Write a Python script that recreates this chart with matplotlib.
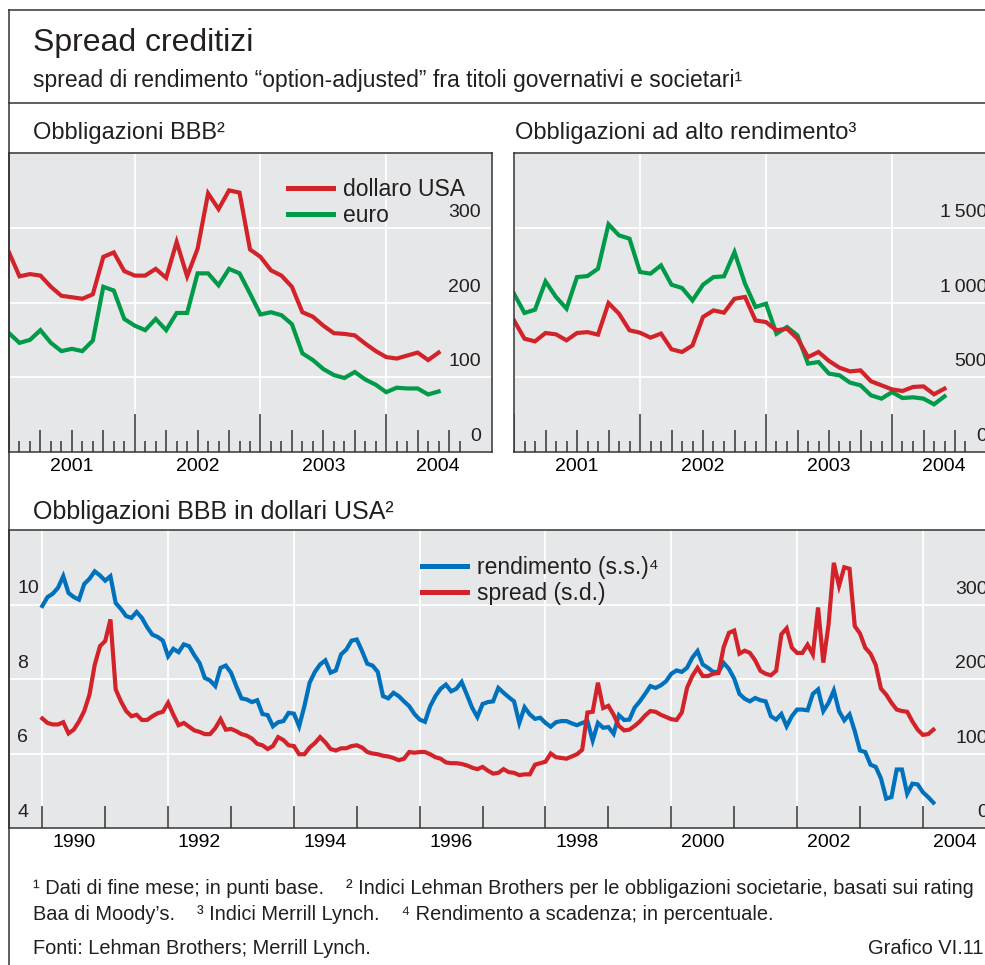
import numpy as np
import matplotlib
matplotlib.use('Agg')
import matplotlib.pyplot as plt
from matplotlib.lines import Line2D

# --- data ---
# top panels: monthly values from Jan 2001, basis points
bbb_usd = [267, 235, 238, 236, 221, 209, 207, 205, 211, 261, 267, 242, 236, 236,
           245, 233, 281, 235, 272, 346, 325, 350, 347, 271, 261, 243, 236, 221,
           187, 181, 169, 159, 158, 156, 145, 135, 127, 125, 129, 133, 123, 133]
bbb_eur = [159, 146, 150, 163, 146, 135, 138, 135, 149, 221, 216, 178, 169, 163,
           178, 163, 186, 186, 239, 239, 223, 245, 239, 212, 184, 187, 183, 171,
           132, 123, 111, 103, 99, 107, 97, 90, 80, 86, 85, 85, 77, 81]
hy_usd = [880, 758, 740, 796, 787, 747, 796, 802, 785, 996, 925, 814, 798, 765,
          792, 687, 669, 713, 903, 947, 932, 1025, 1037, 880, 869, 814, 825, 758,
          635, 669, 609, 564, 539, 546, 473, 446, 419, 408, 435, 439, 386, 424]
hy_eur = [1059, 930, 952, 1141, 1037, 959, 1170, 1177, 1226, 1523, 1449, 1427,
          1204, 1193, 1248, 1119, 1097, 1014, 1119, 1170, 1175, 1337, 1126, 970,
          992, 791, 836, 780, 591, 602, 524, 513, 464, 446, 379, 357, 401, 361,
          366, 357, 319, 372]

# bottom panel: monthly from Jan 1990; yield in %, spread in basis points
yield_usd = [
    9.96, 10.20, 10.29, 10.45, 10.76, 10.31, 10.20, 10.13, 10.55, 10.69, 10.89, 10.78,
    10.64, 10.76, 10.04, 9.88, 9.69, 9.64, 9.80, 9.64, 9.39, 9.19, 9.13, 9.03,
    8.61, 8.81, 8.72, 8.93, 8.88, 8.64, 8.43, 8.03, 7.96, 7.81, 8.30, 8.36,
    8.17, 7.81, 7.48, 7.45, 7.38, 7.43, 7.06, 7.03, 6.73, 6.84, 6.87, 7.09,
    7.07, 6.73, 7.27, 7.90, 8.19, 8.39, 8.50, 8.17, 8.23, 8.66, 8.79, 9.03,
    9.06, 8.75, 8.41, 8.36, 8.19, 7.54, 7.48, 7.63, 7.54, 7.40, 7.27, 7.06,
    6.91, 6.85, 7.27, 7.54, 7.74, 7.85, 7.67, 7.74, 7.92, 7.58, 7.23, 6.98,
    7.33, 7.38, 7.40, 7.76, 7.63, 7.51, 7.40, 6.82, 7.24, 7.05, 6.93, 6.96,
    6.82, 6.72, 6.84, 6.87, 6.87, 6.81, 6.76, 6.82, 6.87, 6.35, 6.82, 6.69,
    6.71, 6.53, 7.03, 6.90, 6.91, 7.23, 7.40, 7.60, 7.81, 7.76, 7.83, 7.94,
    8.14, 8.23, 8.19, 8.30, 8.57, 8.75, 8.39, 8.30, 8.19, 8.19, 8.43, 8.27,
    8.01, 7.60, 7.47, 7.40, 7.49, 7.43, 7.40, 7.00, 6.91, 7.06, 6.73, 7.00,
    7.18, 7.18, 7.16, 7.60, 7.72, 7.14, 7.36, 7.69, 7.14, 6.89, 7.05, 6.60,
    6.08, 6.04, 5.70, 5.64, 5.33, 4.79, 4.83, 5.57, 5.57, 4.92, 5.19, 5.17,
    4.96, 4.83, 4.68]
spread_usd = [
    147, 141, 139, 139, 142, 127, 132, 143, 157, 179, 219, 244,
    251, 280, 186, 170, 157, 150, 152, 145, 145, 150, 154, 156,
    168, 152, 138, 141, 136, 131, 129, 126, 126, 134, 146, 132,
    133, 130, 126, 124, 120, 113, 111, 106, 110, 122, 118, 111,
    110, 99, 99, 108, 114, 122, 115, 106, 104, 107, 107, 110,
    111, 108, 102, 100, 99, 97, 96, 94, 91, 93, 102, 101,
    102, 102, 99, 95, 93, 88, 87, 87, 86, 84, 81, 79,
    82, 77, 73, 74, 79, 75, 74, 71, 72, 72, 85, 87,
    89, 100, 95, 94, 93, 96, 99, 105, 155, 156, 195, 161,
    164, 152, 137, 131, 132, 137, 143, 151, 157, 156, 152, 149,
    146, 145, 155, 188, 204, 215, 204, 204, 207, 208, 243, 262,
    265, 234, 238, 235, 225, 211, 207, 205, 211, 260, 268, 242,
    235, 235, 246, 233, 296, 222, 273, 356, 325, 350, 348, 271,
    261, 242, 234, 219, 187, 179, 168, 159, 157, 156, 143, 132,
    125, 126, 132]

top_years = ['2001', '2002', '2003', '2004']
bottom_years = ['1990', '1992', '1994', '1996', '1998', '2000', '2002', '2004']
bbb_ticks = [0, 100, 200, 300]
hy_ticks = [0, 500, 1000, 1500]
hy_tick_labels = ['0', '500', '1\u2009000', '1\u2009500']
yield_ticks = [4, 6, 8, 10]
spread_ticks = [0, 100, 200, 300]

RED = '#d2232a'
GREEN = '#009a48'
BLUE = '#0071bc'
BG = '#e6e7e8'
DARK = '#333333'

plt.rcParams['font.family'] = ['Liberation Sans', 'DejaVu Sans']
plt.rcParams['text.color'] = '#231f20'

W, H = 985, 965
fig = plt.figure(figsize=(W / 100, H / 100), dpi=100)

TICK_FS = 14


def box(x0, y0, x1, y1):
    # pixel box (from top-left) -> figure fraction rect
    return [x0 / W, 1 - y1 / H, (x1 - x0) / W, (y1 - y0) / H]


def hline(x0, x1, y):
    fig.add_artist(Line2D([x0 / W, x1 / W], [1 - y / H, 1 - y / H], color=DARK, lw=1.1))


def style_axes(ax):
    ax.set_facecolor(BG)
    ax.set_axisbelow(True)
    for s in ax.spines.values():
        s.set_color(DARK)
        s.set_linewidth(1.1)
    ax.grid(True, which='major', color='white', lw=1.3)
    ax.tick_params(which='both', length=0, labelsize=TICK_FS, pad=4)
    ax.tick_params(axis='y', labelleft=False, labelright=False)


def right_labels(ax, values, labels, dx=-8):
    for v, lab in zip(values, labels):
        ax.annotate(lab, xy=(1, v), xycoords=ax.get_yaxis_transform(),
                    xytext=(dx, 11), textcoords='offset points',
                    ha='right', va='center', fontsize=TICK_FS)


def top_panel(ax, ymax, yticks, ylabels):
    style_axes(ax)
    ax.set_xlim(2001, 2001 + 484 / 126)
    ax.set_ylim(0, ymax)
    ax.set_yticks(yticks)
    ax.set_xticks([2001, 2002, 2003, 2004])
    ax.set_xticklabels([])
    ax.set_xticks([2001.5, 2002.5, 2003.5, 2004.41], minor=True)
    ax.set_xticklabels(top_years, minor=True)
    # monthly ticks drawn from the bottom axis up
    k = np.arange(0, 44)
    t = 2001 + k / 12
    h = np.where(k % 12 == 0, 38, np.where(k % 3 == 0, 22, 11)) / 299
    ax.vlines(t, 0, h, transform=ax.get_xaxis_transform(), color=DARK, lw=1.1)
    right_labels(ax, yticks, ylabels)


def legend(ax, handles, x, y):
    leg = ax.legend(handles, [h.get_label() for h in handles], loc='upper left',
                    bbox_to_anchor=(x, y), frameon=False, fontsize=16.5,
                    handlelength=1.95, handletextpad=0.45, labelspacing=0.12,
                    borderpad=0, borderaxespad=0)
    for line in leg.get_lines():
        line.set_linewidth(3.6)
    return leg


x_top = 2001 + np.arange(len(bbb_usd)) / 12

# --- Obbligazioni BBB ---
ax1 = fig.add_axes(box(9, 153, 492, 452))
top_panel(ax1, 400, bbb_ticks, [str(v) for v in bbb_ticks])
l_usd, = ax1.plot(x_top, bbb_usd, color=RED, lw=3.0, label='dollaro USA', solid_joinstyle='miter')
l_eur, = ax1.plot(x_top, bbb_eur, color=GREEN, lw=3.0, label='euro', solid_joinstyle='miter')
legend(ax1, [l_usd, l_eur], (288 - 9) / 483, (452 - 178) / 299)

# --- Obbligazioni ad alto rendimento ---
ax2 = fig.add_axes(box(514, 153, 998, 452))
top_panel(ax2, 2000, hy_ticks, hy_tick_labels)
ax2.plot(x_top, hy_eur, color=GREEN, lw=3.0, solid_joinstyle='miter')
ax2.plot(x_top, hy_usd, color=RED, lw=3.0, solid_joinstyle='miter')

# --- Obbligazioni BBB in dollari USA ---
x_bot = 1990 + np.arange(len(yield_usd)) / 12
ax3 = fig.add_axes(box(9, 530, 999, 828))
style_axes(ax3)
ax3.set_xlim(1990 + (9 - 42.3) / 62.9, 1990 + (999 - 42.3) / 62.9)
ax3.set_ylim(4, 12)
ax3.set_yticks(yield_ticks)
ax3.set_xticks(np.arange(1990, 2005, 2))
ax3.set_xticklabels([])
ax3.set_xticks(np.arange(1990, 2005, 2) + 0.5, minor=True)
ax3.set_xticklabels(bottom_years, minor=True)
ax3.vlines(np.arange(1990, 2005), 0, 22 / 298, transform=ax3.get_xaxis_transform(),
           color=DARK, lw=1.1)
for v in yield_ticks:
    ax3.annotate(str(v), xy=(0, v), xycoords=ax3.get_yaxis_transform(),
                 xytext=(6, 11.5), textcoords='offset points',
                 ha='left', va='center', fontsize=TICK_FS)
l_yield, = ax3.plot(x_bot, yield_usd, color=BLUE, lw=3.0, label='rendimento (s.s.)\u2074',
                    solid_joinstyle='miter')

ax4 = ax3.twinx()
ax4.set_ylim(0, 400)
ax4.patch.set_visible(False)
for s in ax4.spines.values():
    s.set_visible(False)
ax4.tick_params(length=0, labelright=False)
l_spread, = ax4.plot(x_bot, spread_usd, color=RED, lw=3.0, label='spread (s.d.)',
                     solid_joinstyle='miter')
right_labels(ax4, spread_ticks, [str(v) for v in spread_ticks])
legend(ax4, [l_yield, l_spread], (422 - 9) / 990, (828 - 556) / 298)

# --- frame and texts ---
fig.add_artist(Line2D([8.5 / W, 8.5 / W], [0, 1 - 10 / H], color=DARK, lw=1.1))
hline(8.5, W, 10)
hline(8.5, W, 103)

fig.text(33 / W, 1 - 43 / H, 'Spread creditizi', fontsize=23, va='center')
fig.text(33 / W, 1 - 80 / H,
         'spread di rendimento \u201coption-adjusted\u201d fra titoli governativi e societari\u00b9',
         fontsize=16.5, va='center')
fig.text(33 / W, 1 - 133 / H, 'Obbligazioni BBB\u00b2', fontsize=17, va='center')
fig.text(515 / W, 1 - 133 / H, 'Obbligazioni ad alto rendimento\u00b3', fontsize=17, va='center')
fig.text(33 / W, 1 - 512 / H, 'Obbligazioni BBB in dollari USA\u00b2', fontsize=18, va='center')

foot = 14.4
fig.text(33 / W, 1 - 888 / H,
         '\u00b9 Dati di fine mese; in punti base.    \u00b2 Indici Lehman Brothers per le '
         'obbligazioni societarie, basati sui rating', fontsize=foot, va='center')
fig.text(33 / W, 1 - 915 / H,
         'Baa di Moody\u2019s.    \u00b3 Indici Merrill Lynch.    \u2074 Rendimento a scadenza; '
         'in percentuale.', fontsize=foot, va='center')
fig.text(33 / W, 1 - 948 / H, 'Fonti: Lehman Brothers; Merrill Lynch.', fontsize=foot, va='center')
fig.text(983 / W, 1 - 948 / H, 'Grafico VI.11', fontsize=foot, va='center', ha='right')

fig.savefig('out.png', dpi=100)
plt.close(fig)
